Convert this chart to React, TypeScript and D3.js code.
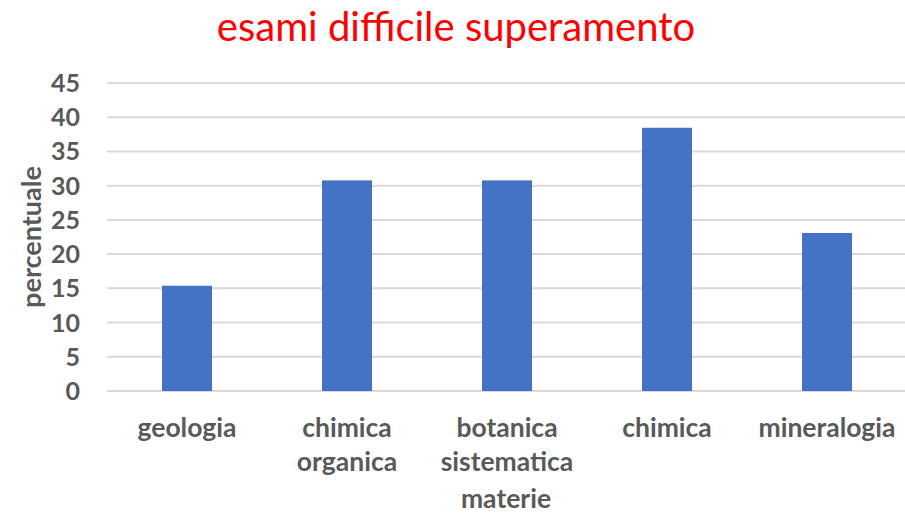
import React from "react";
import * as d3 from "d3";

const categories: string[][] = [
  ["geologia"],
  ["chimica", "organica"],
  ["botanica", "sistematica"],
  ["chimica"],
  ["mineralogia"],
];
const values: number[] = [15.38, 30.77, 30.77, 38.46, 23.08];
const yTicks: number[] = [0, 5, 10, 15, 20, 25, 30, 35, 40, 45];
const title = "esami difficile superamento";
const yTitle = "percentuale";
const xTitle = "materie";

const W = 905;
const H = 516;
const FONT = "Lato, 'Open Sans', sans-serif";
const GRAY = "#595959";

export default function App() {
  const ids = categories.map((_, i) => String(i));
  const x = d3.scaleBand<string>().domain(ids).range([107, 907]).paddingInner(0.6875).paddingOuter(0.34375);
  const y = d3.scaleLinear().domain([0, 45]).range([391, 83]);

  return (
    <svg width={W} height={H} style={{ position: "absolute", left: 0, top: 0, display: "block" }}>
      <rect width={W} height={H} fill="#ffffff" />
      <text x={456} y={41} textAnchor="middle" fill="#ff0000" fontFamily={FONT} fontSize={40}>
        {title}
      </text>
      {yTicks.map((t) => (
        <g key={t}>
          <line x1={107} x2={905} y1={y(t)} y2={y(t)} stroke="#d9d9d9" strokeWidth={2} />
          <text x={80} y={y(t)} dy="0.36em" textAnchor="end" fill={GRAY} fontFamily={FONT} fontWeight="bold" fontSize={25}>
            {t}
          </text>
        </g>
      ))}
      {values.map((v, i) => (
        <rect key={i} x={x(ids[i])} y={y(v)} width={x.bandwidth()} height={y(0) - y(v)} fill="#4472c4" />
      ))}
      {categories.map((lines, i) => (
        <text key={i} textAnchor="middle" fill={GRAY} fontFamily={FONT} fontWeight="bold" fontSize={26.5}>
          {lines.map((l, j) => (
            <tspan key={j} x={(x(ids[i]) as number) + x.bandwidth() / 2} y={437 + j * 34}>
              {l}
            </tspan>
          ))}
        </text>
      ))}
      <text x={506} y={508} textAnchor="middle" fill={GRAY} fontFamily={FONT} fontWeight="bold" fontSize={26.5}>
        {xTitle}
      </text>
      <text
        transform={`translate(41,237) rotate(-90)`}
        textAnchor="middle"
        fill={GRAY}
        fontFamily={FONT}
        fontWeight="bold"
        fontSize={27}
      >
        {yTitle}
      </text>
    </svg>
  );
}
